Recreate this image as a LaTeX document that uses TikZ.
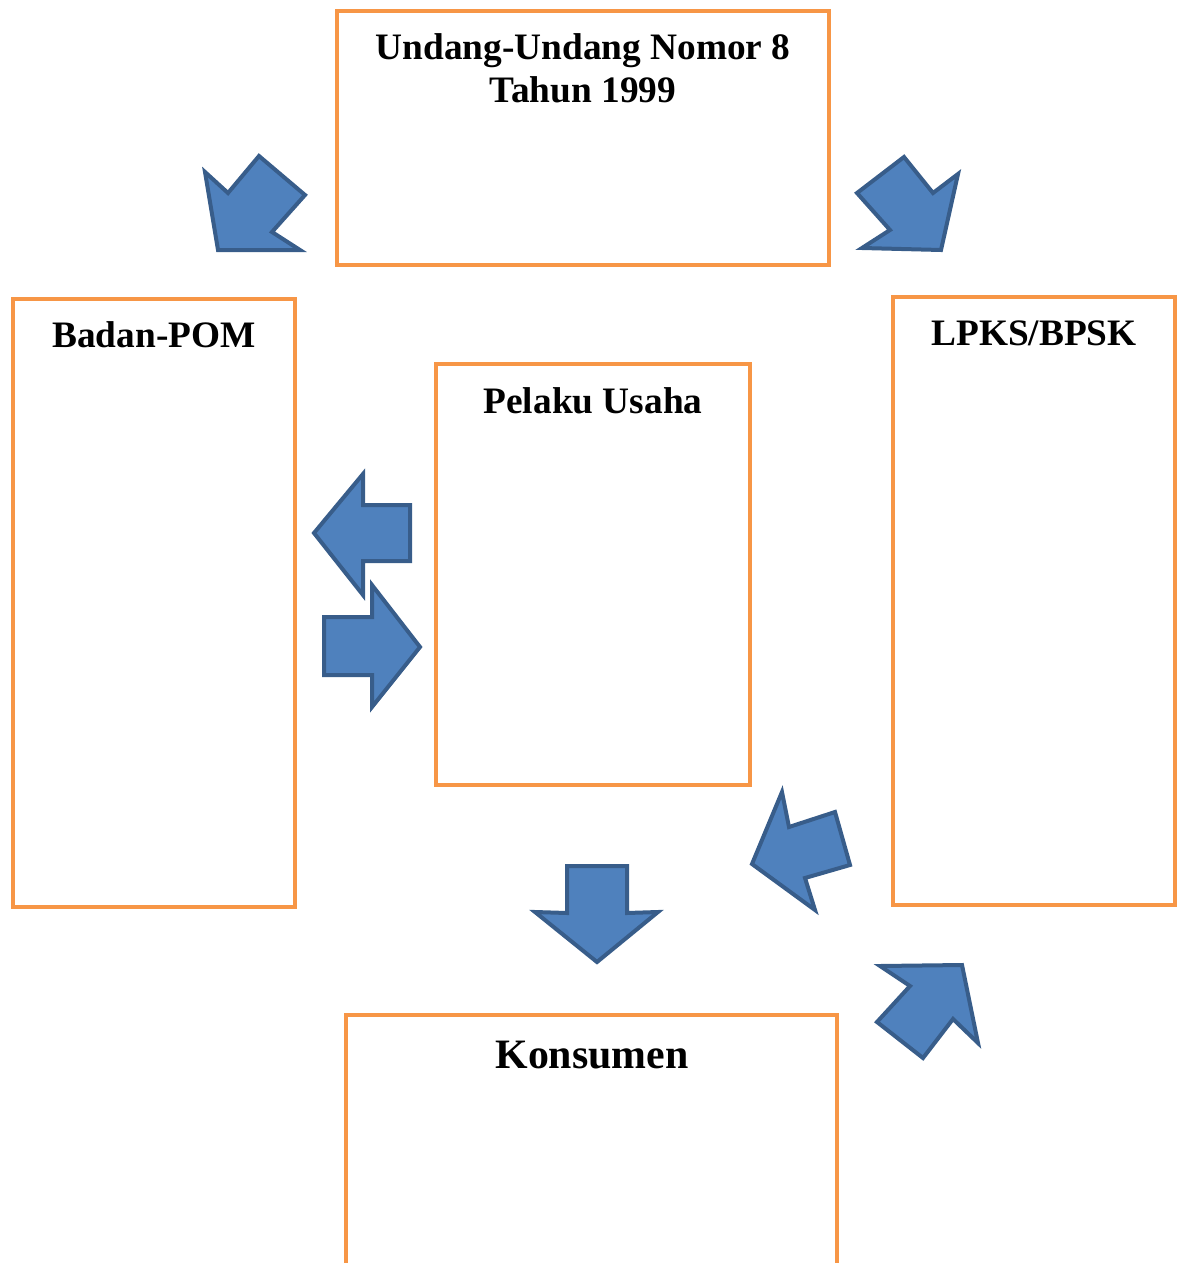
\documentclass[tikz,border=0pt]{standalone}
\usepackage{fontspec}
\setmainfont{Liberation Serif}
\definecolor{boxorange}{HTML}{F79646}
\definecolor{arrowfill}{HTML}{4F81BD}
\definecolor{arrowline}{HTML}{385D8A}
\begin{document}
\begin{tikzpicture}[x=0.75pt,y=-0.75pt,
  frame/.style={draw=boxorange,line width=3pt},
  blockarrow/.style={fill=arrowfill,draw=arrowline,line width=3pt,line join=miter},
  title/.style={inner sep=0pt,font=\bfseries\fontsize{28}{32.25}\selectfont,align=center}]
\useasboundingbox (0,0) rectangle (1178,1263);
\clip (0,0) rectangle (1178,1263);
% boxes
\draw[frame] (337,11) rectangle (829,265);
\draw[frame] (13,299) rectangle (295,907);
\draw[frame] (436,364) rectangle (750,785);
\draw[frame] (893,297) rectangle (1175,905);
\draw[frame] (346,1270) -- (346,1015) -- (837,1015) -- (837,1270);
% titles
\node[title,anchor=north] (uu) at (583,33) {Undang-Undang Nomor 8\\Tahun 1999};
\node[title,anchor=base] (pom) at (154,347) {Badan-POM};
\node[title,anchor=base] (lpks) at (1034,345) {LPKS/BPSK};
\node[title,anchor=base] (pelaku) at (593,413) {Pelaku Usaha};
\node[title,anchor=base,font=\bfseries\fontsize{31.4}{36}\selectfont] (kons) at (592,1068) {Konsumen};
% block arrows
\draw[blockarrow] (218,250) -- (205,172) -- (228,193) -- (259,156) -- (305,195) -- (272,232) -- (300,250) -- cycle;
\draw[blockarrow] (857,193) -- (904,157) -- (933,193) -- (958,174) -- (941,250) -- (862,248) -- (890,230) -- cycle;
\draw[blockarrow] (314,533) -- (363,474) -- (363,505) -- (410,505) -- (410,561) -- (363,561) -- (363,595) -- cycle;
\draw[blockarrow] (324,617) -- (372,617) -- (372,585) -- (420,647) -- (372,707) -- (372,675) -- (324,675) -- cycle;
\draw[blockarrow] (752,864) -- (782,792) -- (789,827) -- (835,812) -- (850,865) -- (805,878) -- (815,910) -- cycle;
\draw[blockarrow] (567,866) -- (627,866) -- (627,913) -- (658,912) -- (597,962) -- (535,912) -- (567,913) -- cycle;
\draw[blockarrow] (880,966) -- (962,965) -- (978,1043) -- (953,1019) -- (923,1058) -- (877,1022) -- (910,986) -- cycle;
\end{tikzpicture}
\end{document}
